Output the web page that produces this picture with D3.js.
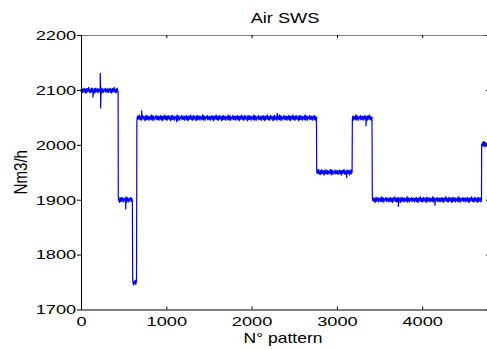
<!DOCTYPE html>
<html>
<head>
<meta charset="utf-8">
<script src="https://cdn.jsdelivr.net/npm/d3@7"></script>
<style>
  body { margin: 0; background: #fff; }
  text { font-family: Arial, "Liberation Sans", Helvetica, sans-serif; fill: #000; }
</style>
</head>
<body>
<svg width="487" height="350"></svg>
<script>
// plateaus of the signal (N° pattern -> Nm3/h)
var segStart = [0, 437, 606, 655, 2763, 3181, 3415, 4697]
var segEnd   = [437, 606, 655, 2763, 3181, 3415, 4697, 4760]
var segLevel = [2099, 1900, 1749, 2049, 1950, 2049, 1900, 2001]

// visible single spikes
var spikeX = [140, 226, 230, 524, 711, 1122, 2300, 3115, 3341, 3720, 4150]
var spikeY = [2086, 2131, 2066, 1882, 2063, 2041, 2058, 1939, 2034, 1887, 1889]

// measurement noise read roughly from the band thickness
var jitter = [2,-3,4,-1,-5,3,1,-2,5,-4,0,3,-6,2,4,-3,1,-1,6,-2,-4,3,0,-5,2,5,-1,-3,4,-2,
              1,-6,3,2,-4,5,-1,0,-3,4,-5,2,1,-2,3,-4,6,-1,-3,2,0,4,-5,1,-2,3,-1,5,-4,2]

var xTicks = [0, 1000, 2000, 3000, 4000]
var yTicks = [1700, 1800, 1900, 2000, 2100, 2200]

var step = 5
var points = []
var k = 0
segStart.forEach((s, i) => {
  for (var t = s; t < segEnd[i]; t += step) {
    points.push({n: t, v: segLevel[i] + jitter[k % jitter.length]})
    k++
  }
})
spikeX.forEach((sx, i) => points.push({n: sx, v: spikeY[i]}))
points.sort((a, b) => a.n - b.n)

var svg = d3.select("svg")
var pL = 81, pR = 489, pT = 35, pB = 309.5

var x = d3.scaleLinear().domain([0, 4783]).range([pL, pR])
var y = d3.scaleLinear().domain([1700, 2200]).range([pB, pT])

var line = d3.line()
  .x(d => x(d.n))
  .y(d => y(d.v))

svg.append("path")
  .datum(points)
  .attr("fill", "none")
  .attr("stroke", "#0000ff")
  .attr("stroke-width", 1.2)
  .attr("d", line)

// axes
var xAxis = svg.append("g")
  .attr("transform", `translate(0,${pB})`)
  .call(d3.axisBottom(x).tickValues(xTicks).tickSize(-3).tickSizeOuter(0).tickPadding(7).tickFormat(d3.format("d")))
xAxis.selectAll("text").attr("font-size", 13.5).attr("transform", "scale(1.35,1)")

svg.append("g")
  .attr("transform", `translate(0,${pT})`)
  .call(d3.axisTop(x).tickValues(xTicks).tickSize(-3).tickSizeOuter(0).tickFormat(""))
  .select(".domain").attr("stroke", "#808080")

var yAxis = svg.append("g")
  .attr("transform", `translate(${pL},0)`)
  .call(d3.axisLeft(y).tickValues(yTicks).tickSize(4).tickSizeOuter(0).tickFormat(d3.format("d")))
yAxis.selectAll("text").attr("font-size", 13.5).attr("x", -3.6).attr("transform", "scale(1.35,1)")

svg.append("g")
  .attr("transform", `translate(${pR},0)`)
  .call(d3.axisRight(y).tickValues(yTicks).tickSize(-3).tickSizeOuter(0).tickFormat(""))

svg.selectAll(".tick line").attr("stroke", "#000")
xAxis.select(".domain").attr("stroke", "#000")
yAxis.select(".domain").attr("stroke", "#000")

// titles
svg.append("text")
  .attr("transform", `translate(${(pL + pR) / 2},23) scale(1.3,1)`)
  .attr("text-anchor", "middle")
  .attr("font-size", 14)
  .text("Air SWS")

svg.append("text")
  .attr("transform", `translate(283,343) scale(1.25,1)`)
  .attr("text-anchor", "middle")
  .attr("font-size", 14)
  .text("N° pattern")

svg.append("text")
  .attr("transform", `translate(27,${(pT + pB) / 2}) rotate(-90) scale(1.08,1.3)`)
  .attr("text-anchor", "middle")
  .attr("font-size", 14)
  .text("Nm3/h")
</script>
</body>
</html>
